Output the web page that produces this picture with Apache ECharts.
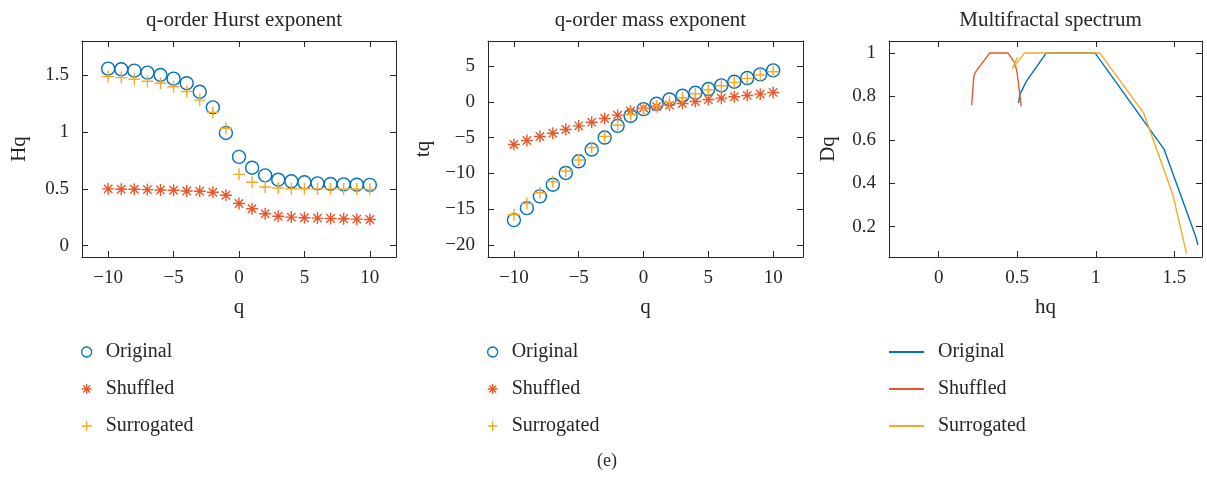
<!DOCTYPE html>
<html><head><meta charset="utf-8">
<script src="https://cdn.jsdelivr.net/npm/echarts@6/dist/echarts.min.js"></script>
<style>html,body{margin:0;padding:0;background:#fff}#c{width:1207px;height:477px}</style>
</head><body><div id="c"></div><script>
// ---- data ----
const q = [-10,-9,-8,-7,-6,-5,-4,-3,-2,-1,0,1,2,3,4,5,6,7,8,9,10];
const seriesNames = ['Original','Shuffled','Surrogated'];

const hqOriginal   = [1.557,1.551,1.539,1.522,1.501,1.469,1.429,1.353,1.216,0.991,0.781,0.685,0.618,0.580,0.566,0.557,0.548,0.542,0.539,0.536,0.534];
const hqShuffled   = [0.499,0.496,0.496,0.493,0.490,0.487,0.481,0.478,0.469,0.443,0.370,0.324,0.280,0.259,0.251,0.245,0.242,0.239,0.236,0.233,0.230];
const hqSurrogated = [1.487,1.478,1.464,1.446,1.429,1.397,1.356,1.280,1.172,1.032,0.627,0.557,0.516,0.507,0.501,0.500,0.499,0.499,0.498,0.498,0.497];

const tqOriginal   = [-16.54,-14.86,-13.22,-11.59,-9.95,-8.32,-6.68,-5.00,-3.36,-1.96,-1.03,-0.28,0.33,0.84,1.26,1.78,2.29,2.80,3.32,3.83,4.39];
const tqShuffled   = [-5.98,-5.42,-4.86,-4.39,-3.88,-3.36,-2.85,-2.34,-1.87,-1.31,-0.89,-0.65,-0.47,-0.23,0.05,0.33,0.51,0.70,0.89,1.07,1.31];
const tqSurrogated = [-15.79,-14.21,-12.71,-11.17,-9.67,-8.13,-6.40,-4.86,-3.27,-1.78,-1.03,-0.56,-0.05,0.56,1.12,1.68,2.24,2.71,3.27,3.74,4.21];

const specOriginalH   = [0.509,0.516,0.558,0.685,0.995,1.434,1.636,1.650];
const specOriginalD   = [0.769,0.808,0.869,1.000,1.000,0.557,0.154,0.115];
const specShuffledH   = [0.210,0.223,0.231,0.325,0.441,0.484,0.498,0.526];
const specShuffledD   = [0.760,0.885,0.908,1.000,1.000,0.954,0.915,0.754];
const specSurrogatedH = [0.501,0.469,0.547,1.025,1.305,1.491,1.577];
const specSurrogatedD = [0.980,0.928,1.000,1.000,0.723,0.346,0.077];

const titles = ['q-order Hurst exponent','q-order mass exponent','Multifractal spectrum'];
const xNames = ['q','q','hq'];
const yNames = ['Hq','tq','Dq'];
const xTicks = [[-10,-5,0,5,10],[-10,-5,0,5,10],[0,0.5,1,1.5]];
const yTicks = [[0,0.5,1,1.5],[-20,-15,-10,-5,0,5],[0.2,0.4,0.6,0.8,1]];
const caption = '(e)';

// ---- style ----
const FONT = 'Liberation Serif';
const TXT = '#262626';
const COLORS = ['#0072BD','#E8582A','#F5AA25'];
const PLUS = 'path://M0,-1L0,1M-1,0L1,0';
const STAR = 'path://M0,-1L0,1M-1,0L1,0M-0.7,-0.7L0.7,0.7M-0.7,0.7L0.7,-0.7';
const SYMS = ['circle', STAR, PLUS];

const grids = [
  {left:82, top:41, width:314, height:216},
  {left:488, top:41, width:315, height:216},
  {left:889, top:41, width:313, height:216}
];
const xRange = [[-12,12],[-12,12.3],[-0.316,1.676]];
const yRange = [[-0.1,1.8],[-21.7,8.5],[0.06,1.055]];

const fmt = v => String(v).replace('-', '\u2212');
const lineStyle = {color: TXT, width: 1};

const xAxis = [], yAxis = [];
grids.forEach((g, i) => {
  xAxis.push({
    type:'value', gridIndex:i, position:'bottom', min:xRange[i][0], max:xRange[i][1],
    name:xNames[i], nameLocation:'middle', nameGap:40,
    nameTextStyle:{fontFamily:FONT, fontSize:21, color:TXT},
    axisLine:{show:true, onZero:false, lineStyle},
    axisTick:{show:true, inside:true, length:6, customValues:xTicks[i], lineStyle},
    axisLabel:{show:true, customValues:xTicks[i], formatter:fmt, margin:12, fontFamily:FONT, fontSize:19, color:TXT},
    splitLine:{show:false}
  });
  xAxis.push({
    type:'value', gridIndex:i, position:'top', min:xRange[i][0], max:xRange[i][1],
    axisLine:{show:true, onZero:false, lineStyle},
    axisTick:{show:true, inside:true, length:6, customValues:xTicks[i], lineStyle},
    axisLabel:{show:false}, splitLine:{show:false}
  });
  yAxis.push({
    type:'value', gridIndex:i, position:'left', min:yRange[i][0], max:yRange[i][1],
    name:yNames[i], nameLocation:'middle', nameGap:[52,54,50][i], nameRotate:90,
    nameTextStyle:{fontFamily:FONT, fontSize:21, color:TXT},
    axisLine:{show:true, onZero:false, lineStyle},
    axisTick:{show:true, inside:true, length:6, customValues:yTicks[i], lineStyle},
    axisLabel:{show:true, customValues:yTicks[i], formatter:fmt, margin:13, fontFamily:FONT, fontSize:19, color:TXT},
    splitLine:{show:false}
  });
  yAxis.push({
    type:'value', gridIndex:i, position:'right', min:yRange[i][0], max:yRange[i][1],
    axisLine:{show:true, onZero:false, lineStyle},
    axisTick:{show:true, inside:true, length:6, customValues:yTicks[i], lineStyle},
    axisLabel:{show:false}, splitLine:{show:false}
  });
});

const series = [];
const scatterSets = [[hqOriginal,hqShuffled,hqSurrogated],[tqOriginal,tqShuffled,tqSurrogated]];
scatterSets.forEach((set, p) => {
  set.forEach((arr, k) => {
    series.push({
      type:'scatter', name:seriesNames[k], xAxisIndex:p*2, yAxisIndex:p*2,
      symbol:SYMS[k], symbolSize:k===0?13:12,
      itemStyle:{color:'transparent', borderColor:COLORS[k], borderWidth:1.4, opacity:1},
      emphasis:{disabled:true},
      data:q.map((x, j) => [x, arr[j]])
    });
  });
});
const specH = [specOriginalH, specShuffledH, specSurrogatedH];
const specD = [specOriginalD, specShuffledD, specSurrogatedD];
specH.forEach((hs, k) => {
  series.push({
    type:'line', name:seriesNames[k], xAxisIndex:4, yAxisIndex:4,
    symbol:'none', lineStyle:{color:COLORS[k], width:1.4}, itemStyle:{color:COLORS[k]},
    emphasis:{disabled:true}, animation:false,
    data:hs.map((h, j) => [h, specD[k][j]])
  });
});

function legendTxt(padLeft) {
  return {fontFamily:FONT, fontSize:20, color:TXT, lineHeight:20, padding:[0,0,0,padLeft]};
}
function scatterLegend(left) {
  return {
    left, top:342, orient:'vertical', padding:0, itemGap:17, itemWidth:10, itemHeight:10,
    selectedMode:false, textStyle:legendTxt(9),
    data: seriesNames.map((n, k) => ({
      name:n, icon:SYMS[k],
      itemStyle:{color:'transparent', borderColor:COLORS[k], borderWidth:1.3}
    }))
  };
}
const legend = [
  scatterLegend(81),
  scatterLegend(487),
  {
    left:889, top:342, orient:'vertical', padding:0, itemGap:17, itemWidth:35, itemHeight:2,
    selectedMode:false, textStyle:legendTxt(9),
    data: seriesNames.map((n, k) => ({
      name:n, icon:'rect',
      itemStyle:{color:COLORS[k], borderWidth:0, borderColor:COLORS[k]}
    }))
  }
];

const title = titles.map((t, i) => ({
  text:t, left:grids[i].left + grids[i].width/2, top:5, textAlign:'center',
  textStyle:{fontFamily:FONT, fontSize:21, fontWeight:'normal', color:TXT}
}));

const chart = echarts.init(document.getElementById('c'), null, {renderer:'canvas'});
chart.setOption({
  animation:false,
  backgroundColor:'#fff',
  title, grid:grids, xAxis, yAxis, legend, series,
  graphic:[{type:'text', left:597, top:452, style:{text:caption, font:'18px "Liberation Serif"', fill:TXT}}]
});
</script></body></html>
